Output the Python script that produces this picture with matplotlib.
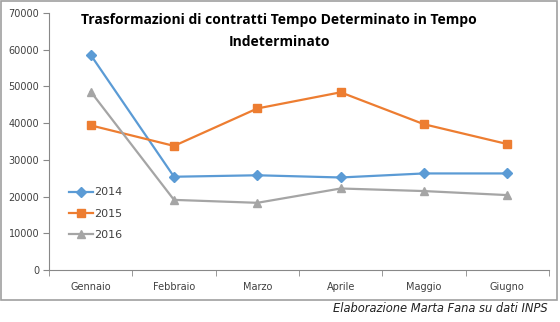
import matplotlib
matplotlib.use('Agg')
import matplotlib.pyplot as plt
from matplotlib.patches import Rectangle

mesi = ['Gennaio', 'Febbraio', 'Marzo', 'Aprile', 'Maggio', 'Giugno']
y2014 = [58600, 25400, 25800, 25200, 26300, 26300]
y2015 = [39400, 33800, 44000, 48400, 39700, 34300]
y2016 = [48600, 19100, 18300, 22200, 21500, 20400]

W, H = 560, 322
fig = plt.figure(figsize=(W / 100, H / 100), dpi=100)

# outer chart frame
fig.patches.append(Rectangle((1 / W, 1 - 300 / H), 556 / W, 299 / H,
                             transform=fig.transFigure, fill=False,
                             edgecolor='#a0a0a0', linewidth=1.2))

ax = fig.add_axes([49 / W, 1 - 270 / H, 500 / W, 257 / H])
x = range(len(mesi))
ax.plot(x, y2014, color='#5b9bd5', marker='D', markersize=5, linewidth=1.6, label='2014')
ax.plot(x, y2015, color='#ed7d31', marker='s', markersize=6, linewidth=1.6, label='2015')
ax.plot(x, y2016, color='#a5a5a5', marker='^', markersize=6, linewidth=1.6, label='2016')

ax.set_xlim(-0.5, 5.5)
ax.set_ylim(0, 70000)
ax.set_yticks(range(0, 70001, 10000))
ax.set_xticks(list(x))
ax.set_xticklabels(mesi)
ax.set_xticks([i - 0.5 for i in range(7)], minor=True)
ax.tick_params(axis='x', which='major', length=0, pad=9, labelsize=7, colors='#404040')
ax.tick_params(axis='x', which='minor', length=4, color='#888888', direction='out')
ax.tick_params(axis='y', length=4, color='#888888', labelsize=7, colors='#404040', pad=3)
for s in ['top', 'right']:
    ax.spines[s].set_visible(False)
ax.spines['left'].set_color('#888888')
ax.spines['bottom'].set_color('#888888')

leg = ax.legend(loc='upper left', bbox_to_anchor=(0.02, 0.36), frameon=False,
                fontsize=8, handlelength=2.2, handletextpad=0.1, labelspacing=1.0)
for t in leg.get_texts():
    t.set_color('#404040')

fig.text(279 / W, 1 - 20 / H, 'Trasformazioni di contratti Tempo Determinato in Tempo',
         ha='center', va='center', fontsize=10, fontweight='bold', family='Open Sans')
fig.text(279 / W, 1 - 42 / H, 'Indeterminato',
         ha='center', va='center', fontsize=10, fontweight='bold', family='Open Sans')

fig.text(548 / W, 1 - 309 / H, 'Elaborazione Marta Fana su dati INPS',
         ha='right', va='center', fontsize=8.3, style='italic', color='#222222')

fig.savefig('out.png', dpi=100)
